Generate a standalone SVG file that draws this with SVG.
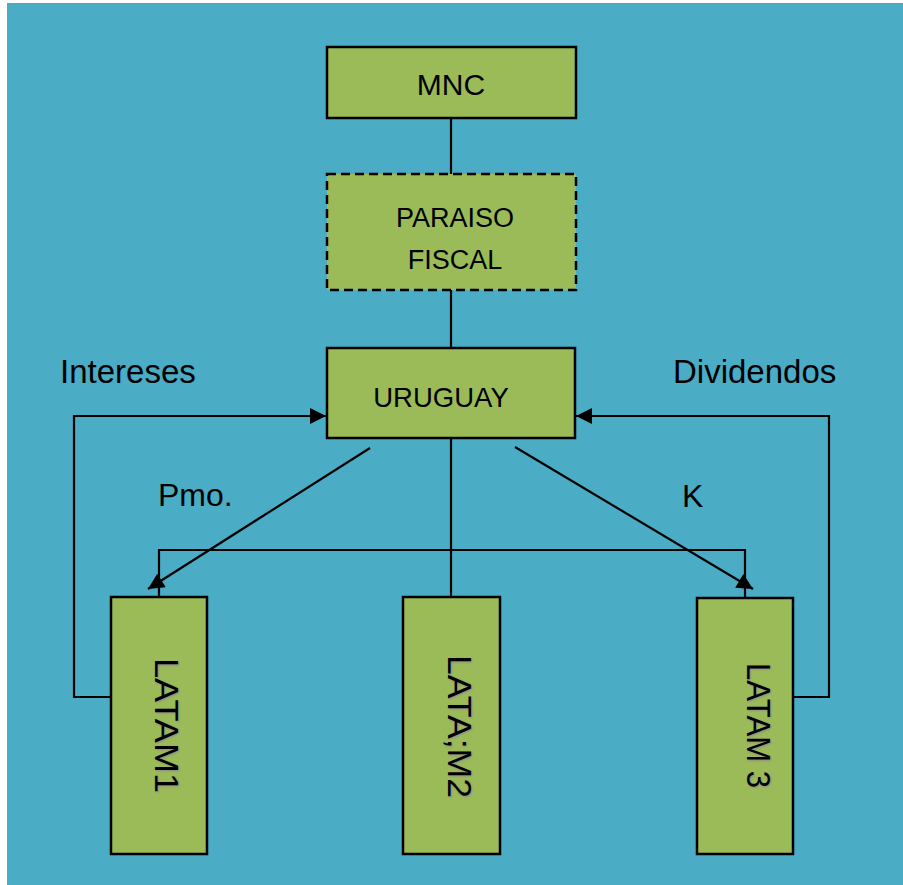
<svg xmlns="http://www.w3.org/2000/svg" width="903" height="885" viewBox="0 0 903 885">
<defs>
<style>
.box{fill:#9BBB59;stroke:#000;stroke-width:2.5}
.dash{stroke-dasharray:9 5}
.ln{fill:none;stroke:#000;stroke-width:2.2}
.t{font-family:"Liberation Sans",Arial,sans-serif;fill:#000}
.v{font-family:"Liberation Sans",Arial,sans-serif;font-size:34px;fill:#000}
.sh{font-family:"Liberation Sans",Arial,sans-serif;font-size:34px;fill:#8a8a8a;filter:url(#blur)}
</style>
<filter id="blur" x="-10%" y="-30%" width="120%" height="160%"><feGaussianBlur stdDeviation="1.2"/></filter>
<marker id="ah" viewBox="0 0 10 10" refX="10" refY="5" markerWidth="17" markerHeight="16" markerUnits="userSpaceOnUse" orient="auto"><path d="M0,0 L10,5 L0,10 Z" fill="#000"/></marker>
</defs>
<rect x="0" y="0" width="903" height="885" fill="#fff"/>
<rect x="7" y="3" width="896" height="882" fill="#4BACC6"/>

<g id="connectors">
<line class="ln" x1="451" y1="119" x2="451" y2="174"/>
<line class="ln" x1="451" y1="290" x2="451" y2="348"/>
<line class="ln" x1="451" y1="438" x2="451" y2="597"/>
<polyline class="ln" points="111,697 74,697 74,416 326,416" marker-end="url(#ah)"/>
<polyline class="ln" points="793,697 829,697 829,416 576,416" marker-end="url(#ah)"/>
<line class="ln" x1="370" y1="448" x2="148" y2="589" marker-end="url(#ah)"/>
<line class="ln" x1="515" y1="447" x2="753" y2="589" marker-end="url(#ah)"/>
<polyline class="ln" points="159,597 159,550 745,550 745,597"/>
</g>

<g id="mnc">
<rect class="box" x="327" y="47" width="249" height="71"/>
<text class="t" x="451" y="95" font-size="30" text-anchor="middle">MNC</text>
</g>
<g id="paraiso">
<rect class="box dash" x="327" y="174" width="249" height="116"/>
<text class="t" x="455" y="227" font-size="27" text-anchor="middle">PARAISO</text>
<text class="t" x="455" y="269" font-size="27" text-anchor="middle">FISCAL</text>
</g>
<g id="uruguay">
<rect class="box" x="327" y="348" width="248" height="90"/>
<text class="t" x="441" y="407" font-size="27.5" text-anchor="middle">URUGUAY</text>
</g>
<g id="latam1">
<rect class="box" x="111" y="597" width="96" height="257"/>
<text class="sh" transform="translate(156,659) rotate(90)" textLength="135" lengthAdjust="spacingAndGlyphs">LATAM1</text>
<text class="v" transform="translate(155,658) rotate(90)" textLength="135" lengthAdjust="spacingAndGlyphs">LATAM1</text>
</g>
<g id="latam2">
<rect class="box" x="403" y="597" width="97" height="257"/>
<text class="sh" transform="translate(449,656) rotate(90)" textLength="143" lengthAdjust="spacingAndGlyphs">LATA;M2</text>
<text class="v" transform="translate(448,655) rotate(90)" textLength="143" lengthAdjust="spacingAndGlyphs">LATA;M2</text>
</g>
<g id="latam3">
<rect class="box" x="697" y="598" width="96" height="256"/>
<text class="sh" transform="translate(748,664) rotate(90)" textLength="125" lengthAdjust="spacingAndGlyphs">LATAM 3</text>
<text class="v" transform="translate(747,663) rotate(90)" textLength="125" lengthAdjust="spacingAndGlyphs">LATAM 3</text>
</g>
<g id="labels">
<text class="t" x="60" y="383" font-size="33">Intereses</text>
<text class="t" x="673" y="383" font-size="33">Dividendos</text>
<text class="t" x="158" y="506" font-size="32">Pmo.</text>
<text class="t" x="682" y="507" font-size="32">K</text>
</g>
</svg>
